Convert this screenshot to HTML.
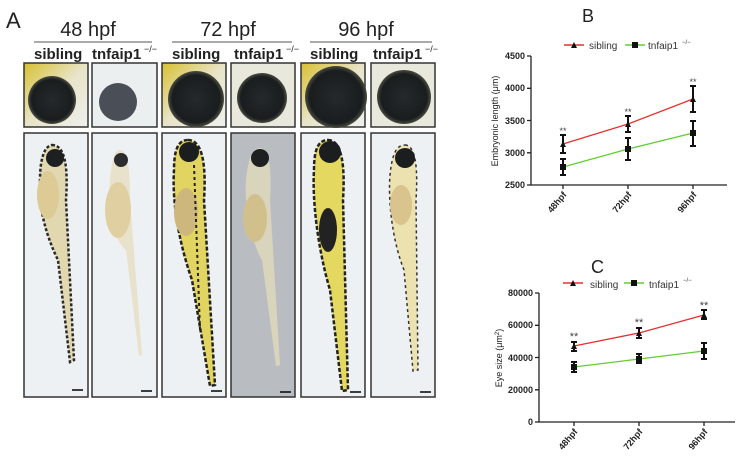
<!DOCTYPE html>
<html><head><style>
body{margin:0;background:#fff;}
svg{display:block;font-family:"Liberation Sans",Arial,sans-serif;}
</style></head><body>
<svg width="744" height="459" viewBox="0 0 744 459" xmlns="http://www.w3.org/2000/svg">
<defs>
<radialGradient id="eg" cx="50%" cy="50%" r="50%"><stop offset="0" stop-color="#25292b"/><stop offset="0.85" stop-color="#1a1d1e"/><stop offset="1" stop-color="#4a4c40"/></radialGradient>
<linearGradient id="yl" x1="0" y1="0" x2="1" y2="1"><stop offset="0" stop-color="#d8c030"/><stop offset="0.5" stop-color="#e8e4c8"/><stop offset="1" stop-color="#eef0ee"/></linearGradient>
</defs>
<text x="6" y="28" font-size="22" fill="#222">A</text>
<text x="88" y="36" font-size="20" text-anchor="middle" fill="#222">48 hpf</text>
<text x="228" y="36" font-size="20" text-anchor="middle" fill="#222">72 hpf</text>
<text x="366" y="36" font-size="20" text-anchor="middle" fill="#222">96 hpf</text>
<g stroke="#555" stroke-width="1"><line x1="34" y1="42" x2="152" y2="42"/><line x1="172" y1="42" x2="292" y2="42"/><line x1="310" y1="42" x2="432" y2="42"/></g>
<g font-size="15" font-weight="bold" fill="#222">
<text x="34" y="59">sibling</text><text x="92" y="59">tnfaip1</text><text x="144" y="52" font-size="9" font-weight="normal">−/−</text>
<text x="172" y="59">sibling</text><text x="234" y="59">tnfaip1</text><text x="286" y="52" font-size="9" font-weight="normal">−/−</text>
<text x="310" y="59">sibling</text><text x="373" y="59">tnfaip1</text><text x="425" y="52" font-size="9" font-weight="normal">−/−</text>
</g>
<g stroke="#333" stroke-width="1.5">
<rect x="24" y="63" width="64" height="64" fill="url(#yl)"/>
<rect x="92" y="63" width="65" height="64" fill="#eceff0"/>
<rect x="162" y="63" width="64" height="64" fill="url(#yl)"/>
<rect x="231" y="63" width="64" height="64" fill="#e8e8dc"/>
<rect x="301" y="63" width="64" height="64" fill="url(#yl)"/>
<rect x="371" y="63" width="64" height="64" fill="#e8e8dc"/>
</g>
<circle cx="52" cy="100" r="24" fill="url(#eg)"/>
<circle cx="118" cy="102" r="19" fill="#4a4e56"/>
<circle cx="196" cy="99" r="28" fill="url(#eg)"/>
<circle cx="262" cy="98" r="25" fill="url(#eg)"/>
<circle cx="336" cy="97" r="31" fill="url(#eg)"/>
<circle cx="404" cy="97" r="27" fill="url(#eg)"/>
<g stroke="#333" stroke-width="1.5">
<rect x="24" y="133" width="64" height="264" fill="#eef1f3"/>
<rect x="92" y="133" width="65" height="264" fill="#eef1f3"/>
<rect x="162" y="133" width="64" height="264" fill="#eef1f3"/>
<rect x="231" y="133" width="64" height="264" fill="#b9bdc2"/>
<rect x="301" y="133" width="64" height="264" fill="#eef1f3"/>
<rect x="371" y="133" width="64" height="264" fill="#eef1f3"/>
</g>
<!-- fish 1 -->
<path d="M52,145 C66,145 68,170 66,200 L74,360 L70,362 L58,260 C48,240 38,210 40,180 C40,160 44,146 52,145Z" fill="#e2d8b0" stroke="#2a2a2a" stroke-width="2.5" stroke-dasharray="3 2"/>
<ellipse cx="48" cy="195" rx="11" ry="24" fill="#dccb94"/>
<circle cx="55" cy="158" r="9" fill="#1d1f20"/>
<!-- fish 2 -->
<path d="M120,150 C128,150 130,170 130,200 L142,355 L139,356 L126,250 C112,240 108,200 110,180 C112,160 114,150 120,150Z" fill="#e8e2cc"/>
<ellipse cx="118" cy="210" rx="13" ry="28" fill="#e0cfa0"/>
<circle cx="121" cy="160" r="7" fill="#2a2c2e"/>
<!-- fish 3 -->
<path d="M188,140 C204,140 206,170 204,200 L215,385 L210,386 L192,280 C178,240 172,200 174,170 C174,150 178,140 188,140Z" fill="#e2d460" stroke="#222" stroke-width="2.5" stroke-dasharray="4 2"/>
<ellipse cx="186" cy="212" rx="12" ry="24" fill="#cdb77c"/>
<line x1="194" y1="165" x2="200" y2="330" stroke="#222" stroke-width="2" stroke-dasharray="3 3"/>
<circle cx="189" cy="152" r="10" fill="#1b1d1e"/>
<!-- fish 4 -->
<path d="M260,148 C270,148 272,175 270,200 L280,365 L276,366 L262,260 C250,240 244,200 246,180 C248,160 252,148 260,148Z" fill="#d9d4bc"/>
<ellipse cx="255" cy="218" rx="12" ry="24" fill="#d2c08c"/>
<circle cx="260" cy="158" r="9" fill="#1d1f20"/>
<!-- fish 5 -->
<path d="M328,140 C343,140 345,170 343,200 L348,390 L342,391 L330,290 C318,250 312,200 314,170 C314,150 318,140 328,140Z" fill="#e4d860" stroke="#222" stroke-width="2.5" stroke-dasharray="4 2"/>
<ellipse cx="328" cy="230" rx="9" ry="22" fill="#222"/>
<circle cx="330" cy="152" r="11" fill="#1b1d1e"/>
<!-- fish 6 -->
<path d="M405,145 C416,145 418,170 416,200 L418,370 L413,371 L404,270 C392,240 388,200 390,175 C392,155 396,145 405,145Z" fill="#ece2b0" stroke="#333" stroke-width="1.5" stroke-dasharray="3 3"/>
<ellipse cx="401" cy="205" rx="11" ry="20" fill="#d8c48c"/>
<circle cx="405" cy="158" r="10" fill="#1b1d1e"/>
<g stroke="#111" stroke-width="1.6">
<line x1="72" y1="390" x2="83" y2="390"/><line x1="141" y1="391" x2="152" y2="391"/><line x1="211" y1="391" x2="222" y2="391"/><line x1="280" y1="392" x2="291" y2="392"/><line x1="350" y1="392" x2="361" y2="392"/><line x1="420" y1="392" x2="431" y2="392"/>
</g>

<!-- Panel B -->
<text x="582" y="22" font-size="18" fill="#222">B</text>
<line x1="564" y1="45" x2="584" y2="45" stroke="#e53030" stroke-width="1.5"/><path d="M571,48 L574,42 L577,48Z" fill="#111"/>
<text x="589" y="49" font-size="10" fill="#333">sibling</text>
<line x1="625" y1="45" x2="645" y2="45" stroke="#6c3" stroke-width="1.5"/><rect x="632" y="42" width="6" height="6" fill="#111"/>
<text x="648" y="49" font-size="10" fill="#333">tnfaip1</text><text x="682" y="44" font-size="6" fill="#333">−/−</text>
<g stroke="#222" stroke-width="1.3" fill="none">
<path d="M531,56 V185 H727"/>
<path d="M527,56 H531 M527,88.3 H531 M527,120.5 H531 M527,152.8 H531 M527,185 H531 M563,185 V189 M628,185 V189 M693,185 V189"/>
</g>
<g font-size="9" font-weight="bold" fill="#222" text-anchor="end">
<text x="525" y="59">4500</text><text x="525" y="91">4000</text><text x="525" y="124">3500</text><text x="525" y="156">3000</text><text x="525" y="188">2500</text>
</g>
<text transform="translate(498,121) rotate(-90)" font-size="9" fill="#222" text-anchor="middle">Embryonic length (μm)</text>
<g font-size="9" font-weight="bold" fill="#222" text-anchor="end">
<text transform="translate(567,195) rotate(-50)">48hpf</text><text transform="translate(632,195) rotate(-50)">72hpf</text><text transform="translate(697,195) rotate(-50)">96hpf</text>
</g>
<polyline points="563,144 628,124 693,99" fill="none" stroke="#e53030" stroke-width="1.3"/>
<polyline points="563,167 628,149 693,133" fill="none" stroke="#6c3" stroke-width="1.3"/>
<g stroke="#111" stroke-width="2">
<path d="M563,135 V153 M560,135 H566 M560,153 H566 M628,116 V132 M625,116 H631 M625,132 H631 M693,86 V112 M690,86 H696 M690,112 H696"/>
<path d="M563,159 V175 M560,159 H566 M560,175 H566 M628,138 V160 M625,138 H631 M625,160 H631 M693,121 V146 M690,121 H696 M690,146 H696"/>
</g>
<g fill="#111"><path d="M560,147 L563,141 L566,147Z M625,127 L628,121 L631,127Z M690,102 L693,96 L696,102Z"/>
<rect x="560" y="164" width="6" height="6"/><rect x="625" y="146" width="6" height="6"/><rect x="690" y="130" width="6" height="6"/></g>
<g font-size="9" fill="#444" text-anchor="middle"><text x="563" y="134">**</text><text x="628" y="115">**</text><text x="693" y="85">**</text></g>

<!-- Panel C -->
<text x="591" y="273" font-size="18" fill="#222">C</text>
<line x1="563" y1="283" x2="583" y2="283" stroke="#e53030" stroke-width="1.5"/><path d="M570,286 L573,280 L576,286Z" fill="#111"/>
<text x="590" y="288" font-size="10" fill="#333">sibling</text>
<line x1="624" y1="283" x2="644" y2="283" stroke="#6c3" stroke-width="1.5"/><rect x="631" y="280" width="6" height="6" fill="#111"/>
<text x="649" y="288" font-size="10" fill="#333">tnfaip1</text><text x="683" y="282" font-size="6" fill="#333">−/−</text>
<g stroke="#222" stroke-width="1.3" fill="none">
<path d="M539,293 V422 H735"/>
<path d="M535,293 H539 M535,325.3 H539 M535,357.5 H539 M535,389.8 H539 M535,422 H539 M574,422 V426 M639,422 V426 M704,422 V426"/>
</g>
<g font-size="9" font-weight="bold" fill="#222" text-anchor="end">
<text x="533" y="296">80000</text><text x="533" y="328">60000</text><text x="533" y="361">40000</text><text x="533" y="393">20000</text><text x="533" y="425">0</text>
</g>
<text transform="translate(502,358) rotate(-90)" font-size="9" fill="#222" text-anchor="middle">Eye size (μm<tspan font-size="6" dy="-3">2</tspan><tspan dy="3">)</tspan></text>
<g font-size="9" font-weight="bold" fill="#222" text-anchor="end">
<text transform="translate(578,432) rotate(-50)">48hpf</text><text transform="translate(643,432) rotate(-50)">72hpf</text><text transform="translate(708,432) rotate(-50)">96hpf</text>
</g>
<polyline points="574,346 639,333 704,315" fill="none" stroke="#e53030" stroke-width="1.3"/>
<polyline points="574,367 639,359 704,351" fill="none" stroke="#6c3" stroke-width="1.3"/>
<g stroke="#111" stroke-width="2">
<path d="M574,342 V351 M571,342 H577 M571,351 H577 M639,328 V338 M636,328 H642 M636,338 H642 M704,310 V319 M701,310 H707 M701,319 H707"/>
<path d="M574,362 V372 M571,362 H577 M571,372 H577 M639,354 V363 M636,354 H642 M636,363 H642 M704,343 V359 M701,343 H707 M701,359 H707"/>
</g>
<g fill="#111"><path d="M571,349 L574,343 L577,349Z M636,336 L639,330 L642,336Z M701,318 L704,312 L707,318Z"/>
<rect x="571" y="364" width="6" height="6"/><rect x="636" y="356" width="6" height="6"/><rect x="701" y="348" width="6" height="6"/></g>
<g font-size="11" fill="#444" text-anchor="middle"><text x="574" y="340">**</text><text x="639" y="326">**</text><text x="704" y="309">**</text></g>
</svg>
</body></html>
